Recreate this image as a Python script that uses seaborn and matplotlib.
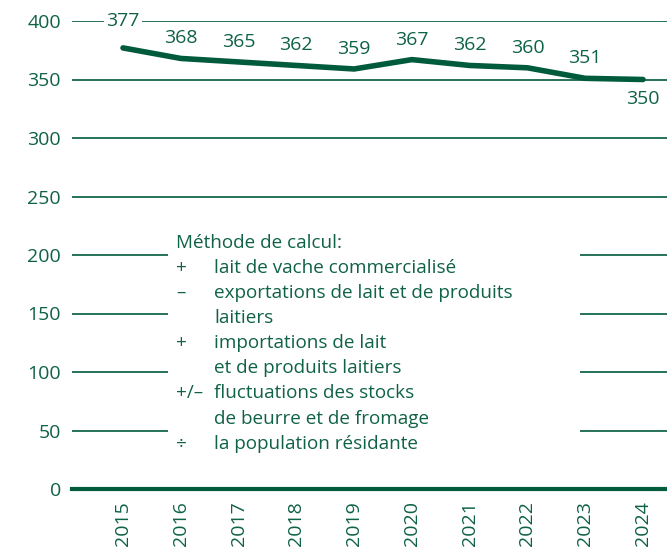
import matplotlib
matplotlib.use("Agg")
import matplotlib.pyplot as plt
import matplotlib.patches as mpatches
import seaborn as sns
import pandas as pd

# ── Data ─────────────────────────────────────────────
years = [2015, 2016, 2017, 2018, 2019, 2020, 2021, 2022, 2023, 2024]
consumption = [377, 368, 365, 362, 359, 367, 362, 360, 351, 350]
y_ticks = [0, 50, 100, 150, 200, 250, 300, 350, 400]

note_title = "Méthode de calcul:"
note_signs = ["+", "–", "", "+", "", "+/–", "", "÷"]
note_lines = ["lait de vache commercialisé",
              "exportations de lait et de produits",
              "laitiers",
              "importations de lait",
              "et de produits laitiers",
              "fluctuations des stocks",
              "de beurre et de fromage",
              "la population résidante"]

df = pd.DataFrame({"Année": years, "Valeur": consumption})

# ── Style ────────────────────────────────────────────
sns.set_theme(style="white")
plt.rcParams['font.family'] = ['Open Sans', 'DejaVu Sans']

GREEN = '#005a3c'
TEXT = '#0f6244'

fig = plt.figure(figsize=(6.67, 5.48), dpi=100, facecolor='white')
ax = fig.add_axes([72 / 667, 59 / 548, 595 / 667, 468 / 548])

for v in y_ticks[1:]:
    ax.axhline(v, color=GREEN, lw=1.2, zorder=1)

sns.lineplot(data=df, x="Année", y="Valeur", color=GREEN, lw=4,
             ax=ax, zorder=4, solid_capstyle='round')

for i, (yr, v) in enumerate(zip(years, consumption)):
    if i == len(years) - 1:
        off = -20
    elif i == 0:
        off = 27
    else:
        off = 20
    ax.annotate(str(v), xy=(yr, v), xytext=(0, off * 0.72),
                textcoords='offset points', ha='center', va='center',
                fontsize=14, color=TEXT, zorder=5,
                bbox=dict(boxstyle='square,pad=0.1', fc='white', ec='none'))

ax.set_xlim(2014.117, 2024.415)
ax.set_ylim(0, 400)
ax.set_yticks(y_ticks)
ax.set_xticks(years)
ax.set_xticklabels([str(y) for y in years], rotation=90)
ax.tick_params(axis='both', length=0, labelsize=14, labelcolor=TEXT)
ax.tick_params(axis='x', pad=9)
ax.tick_params(axis='y', pad=8)
ax.set_xlabel('')
ax.set_ylabel('')
for s in ['top', 'right', 'left']:
    ax.spines[s].set_visible(False)
ax.spines['bottom'].set_color(GREEN)
ax.spines['bottom'].set_linewidth(3)
ax.spines['bottom'].set_zorder(3)

# ── Method note ──────────────────────────────────────
fig.patches.append(mpatches.Rectangle((168 / 667, 88 / 548), 412 / 667, 235 / 548,
                                      transform=fig.transFigure, fc='white',
                                      ec='none', zorder=2))
fig.text(176 / 667, (548 - 243) / 548, note_title, fontsize=13.6,
         color=TEXT, va='center', zorder=3)
for k, (sgn, line) in enumerate(zip(note_signs, note_lines)):
    y = (548 - 268 - k * 25.1) / 548
    fig.text(176 / 667, y, sgn, fontsize=13.6, color=TEXT, va='center', zorder=3)
    fig.text(214 / 667, y, line, fontsize=13.6, color=TEXT, va='center', zorder=3)

plt.savefig('out.png', dpi=100, facecolor='white')
